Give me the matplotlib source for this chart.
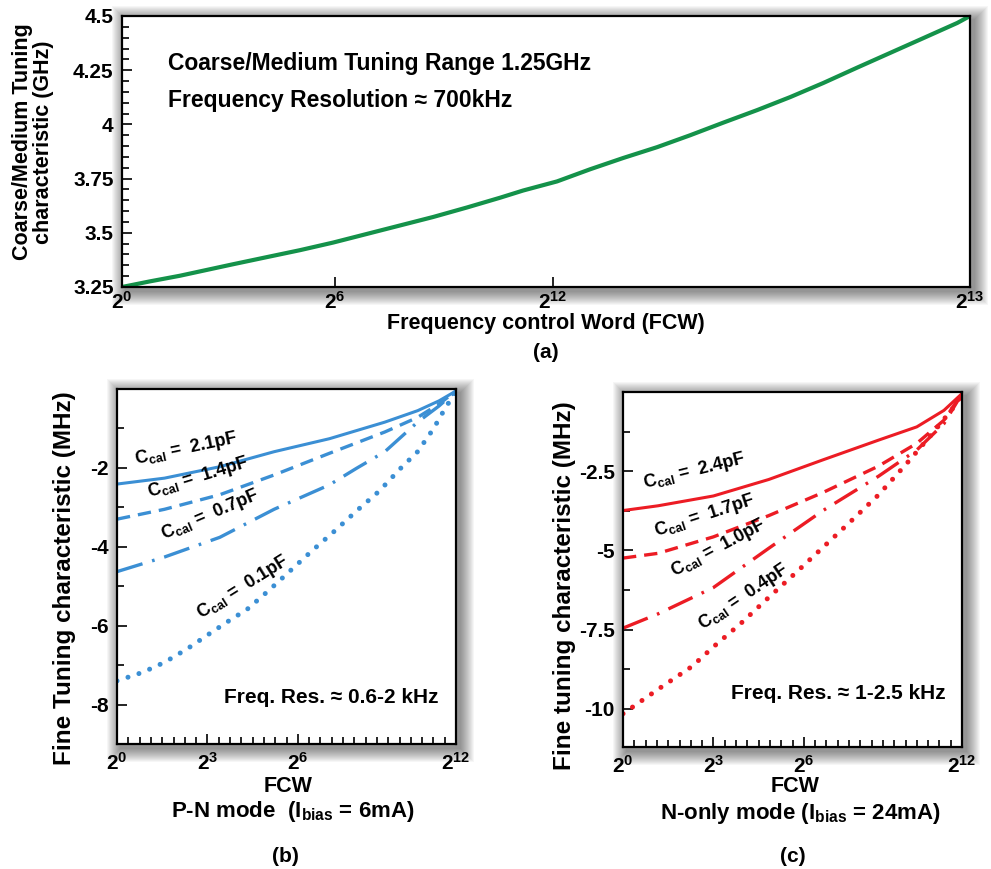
import numpy as np
import matplotlib
matplotlib.use('Agg')
import matplotlib.pyplot as plt
from matplotlib.patches import Rectangle
from matplotlib.ticker import MultipleLocator

plt.rcParams['font.family'] = ['Liberation Sans', 'DejaVu Sans']
plt.rcParams['font.weight'] = 'bold'
plt.rcParams['mathtext.fontset'] = 'custom'
plt.rcParams['mathtext.rm'] = 'Liberation Sans:bold'
plt.rcParams['mathtext.it'] = 'Liberation Sans:bold'
plt.rcParams['mathtext.bf'] = 'Liberation Sans:bold'

# (a) coarse/medium tuning, x in percent of the FCW axis
coarse_x = [0, 3.3, 6.84, 9.2, 13.1, 17.1, 21.0, 24.9, 28.9, 32.8, 36.7, 40.7,
            44.6, 47.3, 51.3, 55.2, 59.1, 63.1, 67.0, 70.9, 74.9, 78.8, 82.7,
            86.7, 90.6, 94.5, 98.5, 100]
coarse_f = [3.25, 3.276, 3.302, 3.322, 3.355, 3.388, 3.42, 3.455, 3.495, 3.534,
            3.573, 3.617, 3.662, 3.695, 3.737, 3.793, 3.845, 3.895, 3.95, 4.008,
            4.066, 4.126, 4.191, 4.262, 4.33, 4.398, 4.468, 4.5]
coarse_ticks = [0, 25.1, 50.8, 100]
coarse_ticklabels = ['$2^{0}$', '$2^{6}$', '$2^{12}$', '$2^{13}$']

# (b) P-N mode, x = FCW index
pn_labels = ['2.1pF', '1.4pF', '0.7pF', '0.1pF']
pn_x = [
    [0, 4.2, 9.1, 13.9, 18.8, 23.7, 26.6, 28.5, 30],
    [0, 4.2, 9.1, 13.9, 18.8, 23.7, 26.6, 28.5, 30],
    [0, 4.2, 9.1, 13.9, 18.8, 21.2, 23.7, 26.6, 28.5, 30],
    [0, 2.3, 4.2, 6.2, 8.1, 10.1, 11.5, 13.5, 15.4, 17.3, 19.3, 21.2, 23.2, 25.1,
     26.6, 28.0, 29.0, 30],
]
pn_y = [
    [-2.41, -2.26, -1.97, -1.59, -1.26, -0.84, -0.55, -0.3, -0.05],
    [-3.3, -3.05, -2.68, -2.18, -1.63, -1.09, -0.72, -0.38, -0.05],
    [-4.63, -4.26, -3.76, -3.05, -2.43, -2.01, -1.59, -0.84, -0.43, -0.05],
    [-7.4, -7.18, -6.93, -6.59, -6.22, -5.84, -5.59, -5.09, -4.59, -4.09, -3.59,
     -3.09, -2.59, -2.01, -1.59, -1.01, -0.51, -0.05],
]

# (c) N-only mode
n_labels = ['2.4pF', '1.7pF', '1.0pF', '0.4pF']
n_x = [
    [0, 3.1, 8.0, 12.9, 17.7, 22.6, 26.0, 28.4, 30],
    [0, 3.1, 8.0, 12.9, 17.7, 22.6, 26.0, 28.4, 30],
    [0, 3.1, 8.0, 12.9, 17.7, 22.6, 26.0, 28.4, 30],
    [0, 3.1, 6.1, 8.0, 10.4, 12.9, 15.3, 17.7, 20.1, 22.6, 25.0, 27.4, 29.4, 30],
]
n_y = [
    [-3.74, -3.59, -3.28, -2.76, -2.14, -1.52, -1.1, -0.58, -0.05],
    [-5.24, -5.09, -4.57, -3.9, -3.17, -2.34, -1.62, -0.89, -0.05],
    [-7.45, -7.0, -6.17, -4.93, -3.74, -2.66, -1.83, -1.0, -0.05],
    [-10.15, -9.38, -8.66, -8.04, -7.31, -6.48, -5.7, -4.9, -4.1, -3.25, -2.3,
     -1.3, -0.42, -0.05],
]
fine_ticks = [0, 8, 16, 30]
fine_ticklabels = ['$2^{0}$', '$2^{3}$', '$2^{6}$', '$2^{12}$']

green = '#14924a'
blue = '#3b8fd4'
red = '#ec1c24'
styles = [
    dict(linestyle='-', linewidth=2.2),
    dict(linestyle=(0, (4, 2.4)), linewidth=2.4),
    dict(linestyle=(0, (8, 3, 0.8, 3)), linewidth=2.4),
    dict(linestyle=(0, (0.01, 2.3)), linewidth=3.6, dash_capstyle='round'),
]

fig = plt.figure(figsize=(9.91, 8.69), dpi=100)
W, H = 991, 869


def px_axes(l, t, r, b):
    return fig.add_axes([l / W, 1 - b / H, (r - l) / W, (b - t) / H])


def shadow(ax):
    bb = ax.get_position()
    for i in range(1, 15):
        dx, dy = i / W, i / H
        fig.patches.append(Rectangle((bb.x0 - dx + 4 / W, bb.y0 - dy - 4 / H),
                                     bb.width + 2 * dx, bb.height + 2 * dy,
                                     transform=fig.transFigure, facecolor='black',
                                     edgecolor='none', alpha=0.035, zorder=-5))


def style_axes(ax):
    for s in ax.spines.values():
        s.set_linewidth(1.6)
    ax.tick_params(which='both', direction='in', width=1.2, labelsize=15, pad=6)
    ax.tick_params(which='major', length=7)
    ax.tick_params(which='minor', length=5)
    shadow(ax)


# (a)
ax1 = px_axes(122, 16, 970, 287)
ax1.plot(coarse_x, coarse_f, color=green, linewidth=3)
ax1.set_xlim(0, 100)
ax1.set_ylim(3.25, 4.5)
ax1.set_xticks(coarse_ticks)
ax1.set_xticklabels(coarse_ticklabels)
ax1.set_yticks([3.25, 3.5, 3.75, 4, 4.25, 4.5])
ax1.set_yticklabels(['3.25', '3.5', '3.75', '4', '4.25', '4.5'])
ax1.yaxis.set_minor_locator(MultipleLocator(0.05))
style_axes(ax1)
ax1.tick_params(axis='x', pad=3)
ax1.text(0.054, 0.823, 'Coarse/Medium Tuning Range 1.25GHz', transform=ax1.transAxes,
         fontsize=16.5, fontweight='bold', va='center')
ax1.text(0.054, 0.69, 'Frequency Resolution \u2248 700kHz', transform=ax1.transAxes,
         fontsize=16.5, fontweight='bold', va='center')
fig.text(33 / W, 1 - 142 / H, 'Coarse/Medium Tuning\ncharacteristic (GHz)', rotation=90,
         ha='center', va='center', fontsize=15.5, fontweight='bold', linespacing=1.05)
fig.text(546 / W, 1 - 323 / H, 'Frequency control Word (FCW)', ha='center', va='center',
         fontsize=15.5, fontweight='bold')
fig.text(546 / W, 1 - 353 / H, '(a)', ha='center', va='center', fontsize=15, fontweight='bold')

# (b)
ax2 = px_axes(117, 389, 456, 744)
for xs, ys, st in zip(pn_x, pn_y, styles):
    ax2.plot(xs, ys, color=blue, **st)
ax2.set_xlim(0, 30)
ax2.set_ylim(-9, 0)
ax2.set_yticks([-8, -6, -4, -2])
ax2.set_yticklabels(['-8', '-6', '-4', '-2'])
ax2.yaxis.set_minor_locator(MultipleLocator(1))
ax2.set_xticks(fine_ticks)
ax2.set_xticklabels(fine_ticklabels)
ax2.xaxis.set_minor_locator(MultipleLocator(1))
style_axes(ax2)
pn_text_pos = [(1.6, -1.8, 12), (2.7, -2.63, 17), (4.0, -3.72, 23), (7.2, -5.72, 32)]
for lab, (tx, ty, rot) in zip(pn_labels, pn_text_pos):
    ax2.text(tx, ty, 'C$_{cal}$ =  ' + lab, fontsize=13, fontweight='bold', rotation=rot,
             rotation_mode='anchor', ha='left', va='center')
ax2.text(0.947, 0.132, 'Freq. Res. \u2248 0.6-2 kHz', transform=ax2.transAxes, fontsize=15,
         fontweight='bold', ha='right', va='center')
fig.text(65 / W, 1 - 578 / H, 'Fine Tuning characteristic (MHz)', rotation=90, ha='center',
         va='center', fontsize=17.5, fontweight='bold')
fig.text(288 / W, 1 - 786 / H, 'FCW', ha='center', va='center', fontsize=15.5, fontweight='bold')
fig.text(293 / W, 1 - 812 / H, 'P-N mode  (I$_{bias}$ = 6mA)', ha='center', va='center',
         fontsize=16, fontweight='bold')
fig.text(285 / W, 1 - 857 / H, '(b)', ha='center', va='center', fontsize=15, fontweight='bold')

# (c)
ax3 = px_axes(623, 392, 962, 747)
for xs, ys, st in zip(n_x, n_y, styles):
    ax3.plot(xs, ys, color=red, **st)
ax3.set_xlim(0, 30)
ax3.set_ylim(-11.2, 0)
ax3.set_yticks([-10, -7.5, -5, -2.5])
ax3.set_yticklabels(['-10', '-7.5', '-5', '-2.5'])
ax3.yaxis.set_minor_locator(MultipleLocator(1.25))
ax3.set_xticks(fine_ticks)
ax3.set_xticklabels(fine_ticklabels)
ax3.xaxis.set_minor_locator(MultipleLocator(1))
style_axes(ax3)
n_text_pos = [(1.8, -2.9, 14), (2.8, -4.43, 18), (4.3, -5.7, 28), (6.8, -7.38, 34)]
for lab, (tx, ty, rot) in zip(n_labels, n_text_pos):
    ax3.text(tx, ty, 'C$_{cal}$ =  ' + lab, fontsize=13, fontweight='bold', rotation=rot,
             rotation_mode='anchor', ha='left', va='center')
ax3.text(0.953, 0.152, 'Freq. Res. \u2248 1-2.5 kHz', transform=ax3.transAxes, fontsize=15,
         fontweight='bold', ha='right', va='center')
fig.text(565 / W, 1 - 586 / H, 'Fine tuning characteristic (MHz)', rotation=90, ha='center',
         va='center', fontsize=17.5, fontweight='bold')
fig.text(795 / W, 1 - 786 / H, 'FCW', ha='center', va='center', fontsize=15.5, fontweight='bold')
fig.text(800 / W, 1 - 814 / H, 'N-only mode (I$_{bias}$ = 24mA)', ha='center', va='center',
         fontsize=16, fontweight='bold')
fig.text(793 / W, 1 - 857 / H, '(c)', ha='center', va='center', fontsize=15, fontweight='bold')

fig.savefig('out.png', dpi=100)
